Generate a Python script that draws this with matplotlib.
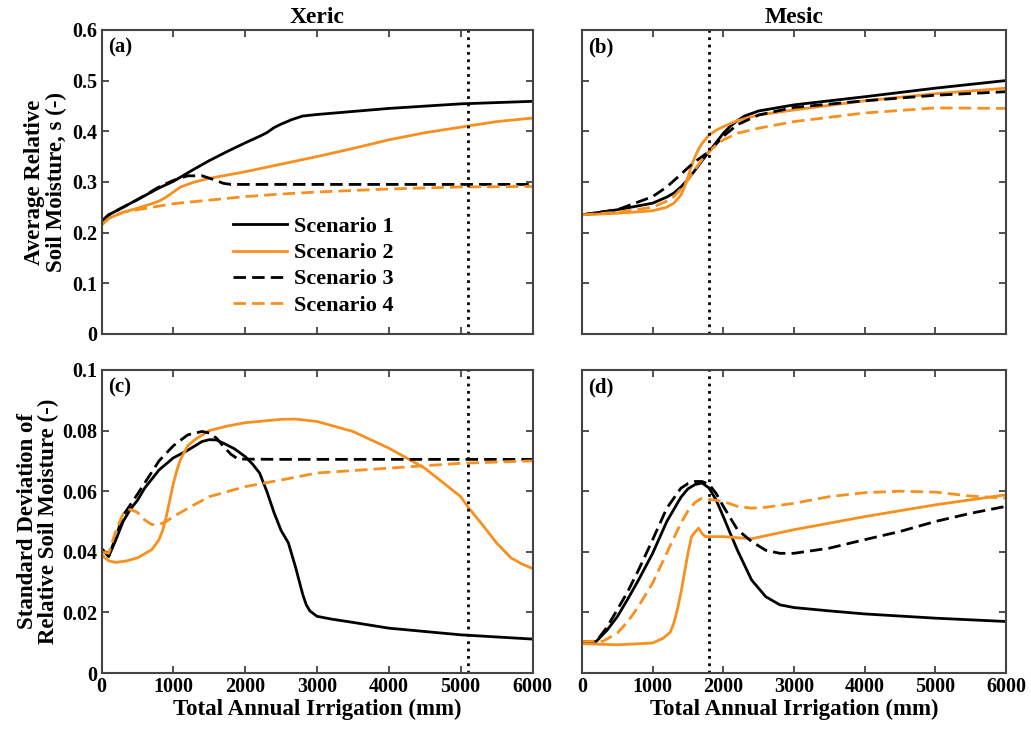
import matplotlib.pyplot as plt
import numpy as np

plt.rcParams['font.family'] = ['Liberation Serif', 'DejaVu Serif']
plt.rcParams['font.weight'] = 'bold'

orange = '#F7901E'

# (a) xeric, mean relative soil moisture
xa1 = [0, 100, 300, 500, 800, 1000, 1250, 1500, 1750, 2000, 2200, 2300, 2400, 2500, 2650, 2800, 3000,
       3500, 4000, 5000, 6000]
ya1 = [0.222, 0.235, 0.250, 0.265, 0.288, 0.301, 0.322, 0.342, 0.360, 0.377, 0.390, 0.397, 0.407,
       0.414, 0.423, 0.430, 0.433, 0.439, 0.445, 0.454, 0.459]
xa2 = [0, 100, 300, 500, 700, 800, 900, 1000, 1100, 1300, 1500, 2000, 2500, 3000, 3500, 4000,
       4500, 5000, 5500, 6000]
ya2 = [0.215, 0.228, 0.240, 0.248, 0.257, 0.262, 0.270, 0.280, 0.290, 0.300, 0.307, 0.320, 0.335,
       0.350, 0.366, 0.383, 0.397, 0.408, 0.419, 0.426]
xa3 = [0, 100, 300, 500, 800, 1000, 1200, 1400, 1550, 1700, 1800, 2500, 4000, 6000]
ya3 = [0.222, 0.235, 0.250, 0.265, 0.290, 0.303, 0.312, 0.312, 0.305, 0.297, 0.295, 0.295, 0.295,
       0.295]
xa4 = [0, 100, 300, 500, 1000, 1500, 2000, 2500, 3000, 3500, 4000, 5000, 6000]
ya4 = [0.215, 0.228, 0.240, 0.245, 0.257, 0.264, 0.271, 0.276, 0.280, 0.283, 0.286, 0.290, 0.291]

# (b) mesic, mean relative soil moisture
xb1 = [0, 500, 1000, 1200, 1300, 1400, 1500, 1600, 1700, 1800, 1900, 2000, 2100, 2200, 2300,
       2500, 3000, 4000, 5000, 6000]
yb1 = [0.235, 0.245, 0.258, 0.270, 0.278, 0.290, 0.305, 0.323, 0.342, 0.360, 0.378, 0.396, 0.410,
       0.421, 0.430, 0.440, 0.452, 0.468, 0.485, 0.500]
xb2 = [0, 500, 1000, 1200, 1300, 1400, 1450, 1500, 1550, 1600, 1650, 1700, 1800, 1900, 2000,
       2200, 2500, 3000, 4000, 5000, 6000]
yb2 = [0.235, 0.238, 0.243, 0.250, 0.258, 0.274, 0.290, 0.310, 0.332, 0.350, 0.365, 0.376, 0.393,
       0.402, 0.409, 0.421, 0.432, 0.442, 0.460, 0.474, 0.485]
xb3 = [0, 500, 1000, 1200, 1400, 1500, 1600, 1800, 2000, 2200, 2500, 3000, 4000, 5000, 6000]
yb3 = [0.235, 0.245, 0.271, 0.290, 0.315, 0.328, 0.340, 0.360, 0.390, 0.413, 0.432, 0.447, 0.460,
       0.471, 0.478]
xb4 = [0, 500, 1000, 1200, 1300, 1400, 1500, 1600, 1700, 1800, 1900, 2000, 2200, 2500, 3000,
       4000, 5000, 6000]
yb4 = [0.235, 0.240, 0.250, 0.262, 0.271, 0.286, 0.304, 0.325, 0.344, 0.360, 0.373, 0.383, 0.396,
       0.406, 0.419, 0.436, 0.446, 0.445]

# (c) xeric, std of relative soil moisture
xc1 = [0, 100, 200, 300, 400, 500, 600, 800, 1000, 1200, 1400, 1500, 1600, 1700, 1850, 2000,
       2100, 2200, 2300, 2400, 2500, 2600, 2700, 2800, 2850, 2900, 3000, 3200, 3500, 4000, 5000,
       6000]
yc1 = [0.041, 0.0385, 0.044, 0.050, 0.054, 0.057, 0.061, 0.067, 0.071, 0.0735, 0.0764, 0.077,
       0.0769, 0.0758, 0.074, 0.0714, 0.069, 0.066, 0.060, 0.053, 0.047, 0.043, 0.035, 0.026,
       0.0225, 0.0205, 0.0187, 0.0178, 0.0167, 0.0148, 0.0126, 0.0112]
xc2 = [0, 100, 200, 350, 500, 700, 800, 850, 900, 950, 1000, 1050, 1100, 1200, 1300, 1500, 1750,
       2000, 2500, 2700, 3000, 3500, 4000, 4500, 5000, 5100, 5300, 5500, 5700, 5850, 6000]
yc2 = [0.039, 0.037, 0.0365, 0.037, 0.038, 0.0407, 0.044, 0.047, 0.0515, 0.057, 0.0626, 0.067,
       0.0705, 0.075, 0.077, 0.080, 0.0815, 0.0826, 0.0837, 0.0838, 0.083, 0.0797, 0.0742,
       0.0676, 0.0582, 0.0548, 0.049, 0.0429, 0.038, 0.036, 0.0345]
xc3 = [0, 100, 200, 300, 500, 800, 1000, 1200, 1400, 1500, 1600, 1700, 1800, 1900, 2500, 4000,
       6000]
yc3 = [0.041, 0.0385, 0.045, 0.052, 0.059, 0.070, 0.075, 0.0786, 0.0797, 0.0792, 0.0775, 0.0747,
       0.0722, 0.0706, 0.0705, 0.0705, 0.0705]
xc4 = [0, 100, 200, 300, 400, 500, 600, 700, 800, 900, 1000, 1250, 1500, 2000, 2500, 3000, 3500,
       4000, 5000, 6000]
yc4 = [0.040, 0.0395, 0.047, 0.0525, 0.054, 0.053, 0.0505, 0.049, 0.049, 0.050, 0.0516, 0.055,
       0.0582, 0.0615, 0.0637, 0.066, 0.0668, 0.0676, 0.0692, 0.070]

# (d) mesic, std of relative soil moisture
xd1 = [0, 200, 350, 500, 650, 800, 1000, 1200, 1400, 1500, 1600, 1700, 1800, 1900, 2000, 2100,
       2200, 2400, 2600, 2800, 3000, 3500, 4000, 5000, 6000]
yd1 = [0.0104, 0.0104, 0.0140, 0.0186, 0.0245, 0.0307, 0.0395, 0.050, 0.058, 0.0608, 0.0622,
       0.0627, 0.061, 0.057, 0.0516, 0.046, 0.0405, 0.0307, 0.0252, 0.0225, 0.0216, 0.0205,
       0.0195, 0.0181, 0.017]
xd2 = [0, 500, 1000, 1150, 1250, 1300, 1350, 1400, 1450, 1500, 1550, 1600, 1650, 1700, 1750,
       2000, 2400, 3000, 4000, 5000, 6000]
yd2 = [0.0097, 0.0093, 0.0099, 0.0115, 0.0135, 0.0165, 0.021, 0.0264, 0.033, 0.0396, 0.045,
       0.0465, 0.0478, 0.046, 0.045, 0.045, 0.0443, 0.0473, 0.0516, 0.0555, 0.0588]
xd3 = [0, 200, 350, 500, 650, 800, 1000, 1200, 1400, 1500, 1600, 1700, 1800, 1900, 2000, 2200,
       2400, 2600, 2800, 3000, 3500, 4000, 4500, 5000, 5500, 6000]
yd3 = [0.0104, 0.0104, 0.015, 0.0209, 0.027, 0.034, 0.044, 0.0544, 0.061, 0.0625, 0.0632, 0.0632,
       0.0622, 0.0592, 0.055, 0.0473, 0.0434, 0.0405, 0.0395, 0.0395, 0.0412, 0.044, 0.0467,
       0.050, 0.0527, 0.055]
xd4 = [0, 300, 500, 650, 800, 1000, 1200, 1400, 1500, 1600, 1700, 1800, 2000, 2200, 2400, 2600,
       3000, 3500, 4000, 4500, 5000, 5500, 6000]
yd4 = [0.0104, 0.0105, 0.0132, 0.0170, 0.022, 0.0297, 0.0396, 0.0495, 0.0535, 0.0563, 0.0577,
       0.0573, 0.0566, 0.055, 0.0544, 0.0547, 0.056, 0.0582, 0.0595, 0.060, 0.0597, 0.0584,
       0.0577]

threshold_xeric = 5100
threshold_mesic = 1800
labels = ['Scenario 1', 'Scenario 2', 'Scenario 3', 'Scenario 4']

fig = plt.figure(figsize=(10.31, 7.29), dpi=100)
axa = fig.add_axes([0.0985, 0.542, 0.418, 0.417])
axb = fig.add_axes([0.5645, 0.542, 0.4112, 0.417])
axc = fig.add_axes([0.0985, 0.0768, 0.418, 0.4157])
axd = fig.add_axes([0.5645, 0.0768, 0.4112, 0.4157])

panels = [
    (axa, [(xa1, ya1), (xa2, ya2), (xa3, ya3), (xa4, ya4)], threshold_xeric, '(a)'),
    (axb, [(xb1, yb1), (xb2, yb2), (xb3, yb3), (xb4, yb4)], threshold_mesic, '(b)'),
    (axc, [(xc1, yc1), (xc2, yc2), (xc3, yc3), (xc4, yc4)], threshold_xeric, '(c)'),
    (axd, [(xd1, yd1), (xd2, yd2), (xd3, yd3), (xd4, yd4)], threshold_mesic, '(d)'),
]
dash = (0, (4.5, 2.2))
styles = [('k', '-'), (orange, '-'), ('k', dash), (orange, dash)]

for ax, series, thr, tag in panels:
    for (x, y), (c, ls), lab in zip(series, styles, labels):
        ax.plot(x, y, color=c, linestyle=ls, linewidth=2.0, label=lab)
    ax.axvline(thr, color='k', linestyle=':', linewidth=2.0)
    ax.set_xlim(0, 6000)
    ax.set_xticks(np.arange(0, 6001, 1000))
    ax.tick_params(direction='in', top=True, right=True, labelsize=14.5, length=5,
                   width=1.2, color='#333333', pad=3)
    for s in ax.spines.values():
        s.set_color('#444444')
        s.set_linewidth(1.5)
    ax.text(0.015, 0.975, tag, transform=ax.transAxes, ha='left', va='top',
            fontsize=15, fontweight='bold')

for ax in (axa, axb):
    ax.set_ylim(0, 0.6)
    ax.set_yticks(np.arange(0, 0.61, 0.1))
    ax.set_yticklabels(['0', '0.1', '0.2', '0.3', '0.4', '0.5', '0.6'])
    ax.tick_params(labelbottom=False)
for ax in (axc, axd):
    ax.set_ylim(0, 0.1)
    ax.set_yticks(np.arange(0, 0.101, 0.02))
    ax.set_yticklabels(['0', '0.02', '0.04', '0.06', '0.08', '0.1'])
    ax.set_xticklabels(['0', '1000', '2000', '3000', '4000', '5000', '6000'])
    ax.set_xlabel('Total Annual Irrigation (mm)', fontsize=16.5, fontweight='bold', labelpad=1)
for ax in (axb, axd):
    ax.tick_params(labelleft=False)
for ax in (axa, axb, axc, axd):
    for lbl in ax.get_xticklabels() + ax.get_yticklabels():
        lbl.set_fontweight('bold')

axa.set_title('Xeric', fontsize=17, fontweight='bold', pad=5)
axb.set_title('Mesic', fontsize=17, fontweight='bold', pad=5)
axa.set_ylabel('Average Relative\nSoil Moisture, s (-)', fontsize=16.5, fontweight='bold',
               linespacing=1.05, labelpad=4)
axc.set_ylabel('Standard Deviation of\nRelative Soil Moisture (-)', fontsize=16.5,
               fontweight='bold', linespacing=1.05, labelpad=2)

axa.legend(loc='upper left', bbox_to_anchor=(0.285, 0.415), frameon=False,
           prop={'size': 16, 'weight': 'bold'}, handlelength=2.4, labelspacing=0.25,
           borderaxespad=0, handletextpad=0.35)

fig.savefig('out.png', dpi=100)
